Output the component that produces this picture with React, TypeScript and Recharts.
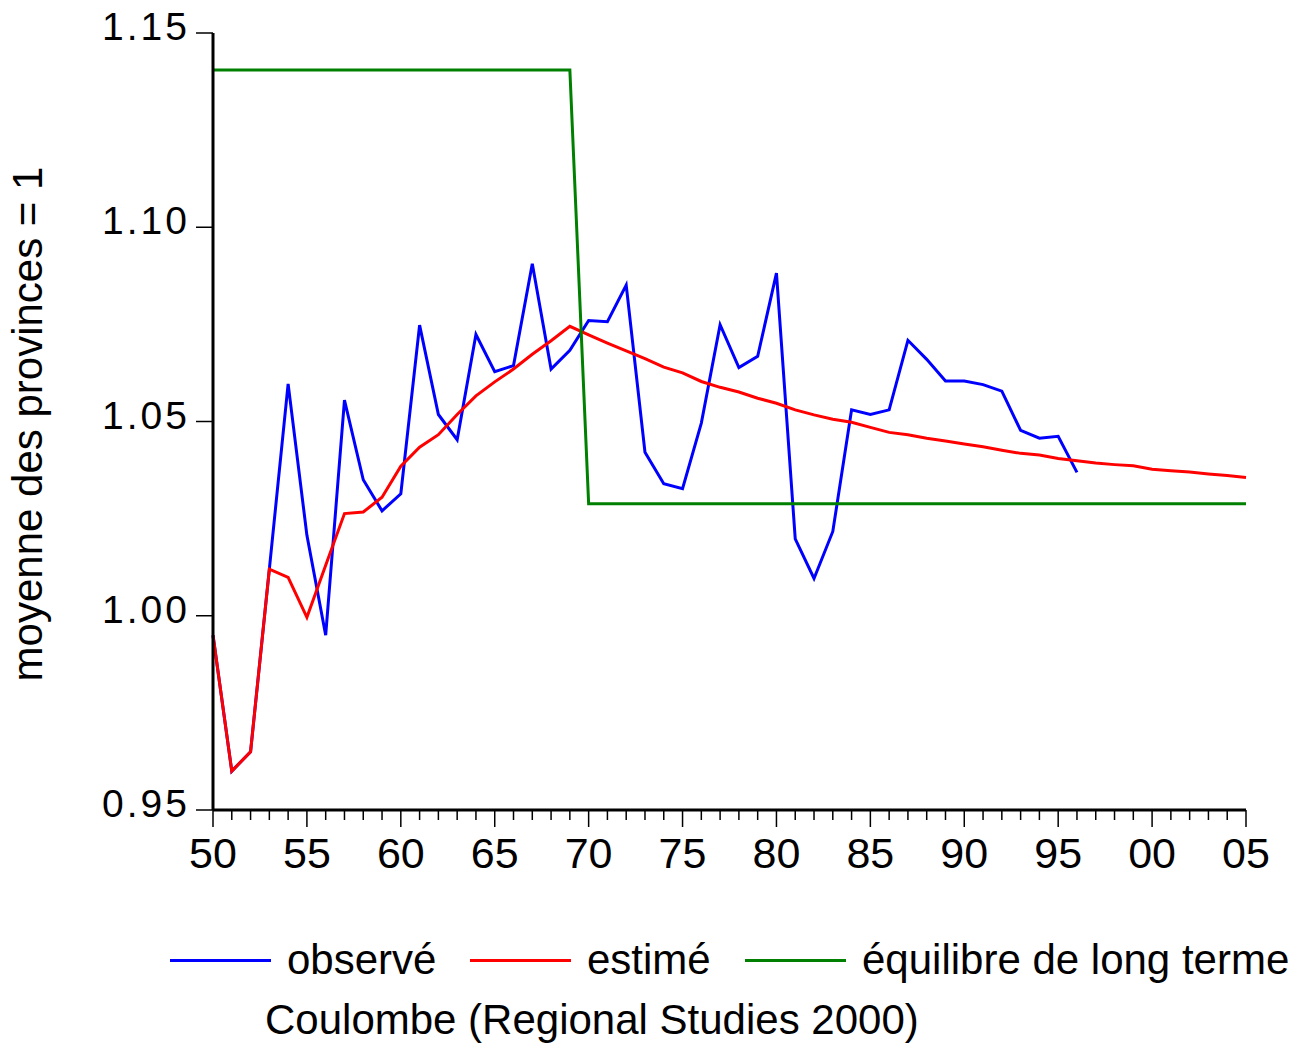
import React from "react";
import { LineChart, Line, XAxis, YAxis, Legend } from "recharts";

const years = [
  1950, 1951, 1952, 1953, 1954, 1955, 1956, 1957, 1958, 1959,
  1960, 1961, 1962, 1963, 1964, 1965, 1966, 1967, 1968, 1969,
  1970, 1971, 1972, 1973, 1974, 1975, 1976, 1977, 1978, 1979,
  1980, 1981, 1982, 1983, 1984, 1985, 1986, 1987, 1988, 1989,
  1990, 1991, 1992, 1993, 1994, 1995, 1996, 1997, 1998, 1999,
  2000, 2001, 2002, 2003, 2004, 2005,
];

// observé: 1950-1996
const observed = [
  0.995, 0.96, 0.965, 1.012, 1.0597, 1.0207, 0.995, 1.0555, 1.035, 1.027,
  1.0314, 1.0748, 1.0518, 1.0453, 1.0724, 1.0628, 1.0644, 1.0906, 1.0635, 1.0683,
  1.076, 1.0757, 1.0851, 1.0421, 1.034, 1.0327, 1.0496, 1.0749, 1.0639, 1.0668,
  1.0882, 1.0198, 1.0096, 1.0217, 1.053, 1.0518, 1.053, 1.0709, 1.066, 1.0604,
  1.0604, 1.0595, 1.0578, 1.0477, 1.0457, 1.0462, 1.0369,
];

// estimé: 1950-2005
const estimated = [
  0.995, 0.96, 0.965, 1.012, 1.0099, 0.9996, 1.013, 1.0263, 1.0267, 1.0305,
  1.0385, 1.0434, 1.0466, 1.0518, 1.0566, 1.0602, 1.0635, 1.0673, 1.0708, 1.0745,
  1.0723, 1.0702, 1.0682, 1.0662, 1.064, 1.0625, 1.0603, 1.0588, 1.0576, 1.056,
  1.0547, 1.053, 1.0517, 1.0506, 1.0498, 1.0485, 1.0472, 1.0466, 1.0457, 1.045,
  1.0442, 1.0435, 1.0426, 1.0418, 1.0414, 1.0405, 1.0399, 1.0393, 1.0389, 1.0386,
  1.0377, 1.0373, 1.037, 1.0365, 1.0361, 1.0356,
];

// équilibre de long terme
const equilibrium = [
  1.1405, 1.1405, 1.1405, 1.1405, 1.1405, 1.1405, 1.1405, 1.1405, 1.1405, 1.1405,
  1.1405, 1.1405, 1.1405, 1.1405, 1.1405, 1.1405, 1.1405, 1.1405, 1.1405, 1.1405,
  1.0288, 1.0288, 1.0288, 1.0288, 1.0288, 1.0288, 1.0288, 1.0288, 1.0288, 1.0288,
  1.0288, 1.0288, 1.0288, 1.0288, 1.0288, 1.0288, 1.0288, 1.0288, 1.0288, 1.0288,
  1.0288, 1.0288, 1.0288, 1.0288, 1.0288, 1.0288, 1.0288, 1.0288, 1.0288, 1.0288,
  1.0288, 1.0288, 1.0288, 1.0288, 1.0288, 1.0288,
];

const yTicks = [0.95, 1.0, 1.05, 1.1, 1.15];

const legendItems = [
  { key: "observed", label: "observé", color: "#0000ff" },
  { key: "estimated", label: "estimé", color: "#ff0000" },
  { key: "equilibrium", label: "équilibre de long terme", color: "#008000" },
];

const FONT = "'Liberation Sans', Arial, sans-serif";

const data = years.map((year, i) => ({
  year,
  observed: i < observed.length ? observed[i] : null,
  estimated: estimated[i],
  equilibrium: equilibrium[i],
}));

function YearTick(props: any) {
  const { x, y, payload } = props;
  const yr = payload.value as number;
  const major = yr % 5 === 0;
  const label = String(yr % 100).padStart(2, "0");
  return (
    <g>
      <line x1={x} x2={x} y1={y} y2={y + (major ? 17 : 10)} stroke="#000" strokeWidth={1.5} />
      {major && (
        <text x={x} y={y + 58} textAnchor="middle" fontSize={43} fontFamily={FONT} fill="#000">
          {label}
        </text>
      )}
    </g>
  );
}

function ValueTick(props: any) {
  const { x, y, payload } = props;
  return (
    <g>
      <line x1={x - 17} x2={x} y1={y} y2={y} stroke="#000" strokeWidth={1.5} />
      <text
        x={x - 23}
        y={y + 7}
        textAnchor="end"
        fontSize={39}
        letterSpacing={3}
        fontFamily={FONT}
        fill="#000"
      >
        {(payload.value as number).toFixed(2)}
      </text>
    </g>
  );
}

function AxisTitle() {
  return (
    <text
      transform="translate(42, 424) rotate(-90)"
      textAnchor="middle"
      fontSize={42}
      fontFamily={FONT}
      fill="#000"
    >
      moyenne des provinces = 1
    </text>
  );
}

// legend row + source line under the chart
const legendPos = [
  { line: 170, text: 287 },
  { line: 470, text: 587 },
  { line: 745, text: 862 },
];

function LegendBlock() {
  const txt: React.CSSProperties = {
    position: "absolute",
    fontFamily: FONT,
    fontSize: 42,
    lineHeight: "42px",
    whiteSpace: "nowrap",
    color: "#000",
  };
  return (
    <div style={{ position: "relative", width: 1302, height: 126 }}>
      {legendItems.map((it, i) => (
        <React.Fragment key={it.key}>
          <div
            style={{
              position: "absolute",
              left: legendPos[i].line,
              top: 38.5,
              width: 101,
              height: 3,
              background: it.color,
            }}
          />
          <span style={{ ...txt, left: legendPos[i].text, top: 19 }}>{it.label}</span>
        </React.Fragment>
      ))}
      <span style={{ ...txt, left: 265, top: 79 }}>Coulombe (Regional Studies 2000)</span>
    </div>
  );
}

export default function App() {
  return (
    <div style={{ position: "absolute", left: 0, top: 0, background: "#fff" }}>
      <LineChart
        width={1302}
        height={1046}
        data={data}
        margin={{ top: 33, right: 56, bottom: 176, left: 0 }}
      >
        <XAxis
          dataKey="year"
          type="number"
          domain={[1950, 2005]}
          ticks={years}
          interval={0}
          tickSize={0}
          tickMargin={0}
          tick={<YearTick />}
          height={60}
          axisLine={{ stroke: "#000", strokeWidth: 3 }}
          tickLine={false}
        />
        <YAxis
          type="number"
          domain={[0.95, 1.15]}
          ticks={yTicks}
          interval={0}
          width={213}
          tickSize={0}
          tickMargin={0}
          tick={<ValueTick />}
          axisLine={{ stroke: "#000", strokeWidth: 3 }}
          tickLine={false}
          allowDataOverflow
          label={<AxisTitle />}
        />
        <Line
          type="linear"
          dataKey="observed"
          stroke="#0000ff"
          strokeWidth={3}
          dot={false}
          activeDot={false}
          isAnimationActive={false}
        />
        <Line
          type="linear"
          dataKey="estimated"
          stroke="#ff0000"
          strokeWidth={3}
          dot={false}
          activeDot={false}
          isAnimationActive={false}
        />
        <Line
          type="linear"
          dataKey="equilibrium"
          stroke="#008000"
          strokeWidth={3}
          dot={false}
          activeDot={false}
          isAnimationActive={false}
        />
        <Legend
          layout="horizontal"
          verticalAlign="middle"
          align="center"
          wrapperStyle={{ left: 0, top: 920, width: 1302, height: 126 }}
          content={() => <LegendBlock />}
        />
      </LineChart>
    </div>
  );
}
